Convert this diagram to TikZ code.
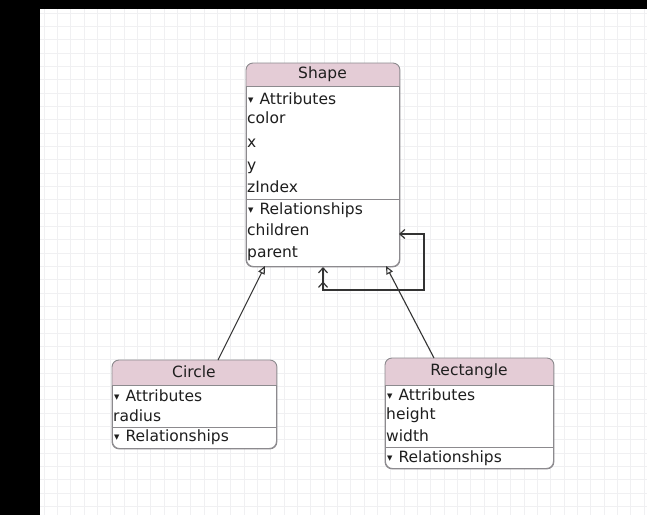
\documentclass[tikz,border=0pt]{standalone}
\usepackage{fontspec}
\setmainfont{DejaVu Sans}
\usetikzlibrary{arrows.meta}

\definecolor{hdrpink}{RGB}{228,204,214}
\definecolor{boxline}{RGB}{140,138,142}
\definecolor{gridline}{RGB}{240,240,242}
\definecolor{txt}{RGB}{30,30,30}
\newcommand\sect[1]{\raisebox{2pt}{\fontsize{7}{8}\selectfont ▼}\hspace{6pt}#1}
\tikzset{barb/.tip={Straight Barb[length=5pt,width=9pt,line width=1.2pt]}}

\begin{document}
\begin{tikzpicture}[x=1pt,y=-1pt,
  every node/.style={text=txt, font=\fontsize{15.5}{18}\selectfont, inner sep=0pt},
  row/.style={anchor=west, text height=11pt, text depth=3pt},
  title/.style={text height=11pt, text depth=3pt},
  frame/.style={draw=boxline, line width=0.9pt, rounded corners=7pt},
  link/.style={draw=black!80, line width=1.1pt}]
\useasboundingbox (0,0) rectangle (647,515);
\fill[black] (0,0) rectangle (647,515);
\fill[white] (40,9) rectangle (647,515);
\foreach \i in {0,...,45} \draw[gridline] ({44+13.33*\i},9) -- ({44+13.33*\i},515);
\foreach \i in {0,...,37} \draw[gridline] (40,{13+13.33*\i}) -- (647,{13+13.33*\i});

% Shape
\node[frame, fill=white, minimum width=153pt, minimum height=203pt, anchor=north west] (shape) at (246,63) {};
\begin{scope}
\clip[rounded corners=7pt] (shape.north west) rectangle (shape.south east);
\fill[hdrpink] (shape.north west) rectangle ([yshift=-23pt]shape.north east);
\end{scope}
\draw[frame] (shape.north west) rectangle (shape.south east);
\draw[boxline] ([yshift=-23pt]shape.north west) -- ([yshift=-23pt]shape.north east);
\draw[boxline] ([yshift=-136pt]shape.north west) -- ([yshift=-136pt]shape.north east);
\node[title] (shape-title) at (322.5,74) {Shape};
\node[row] (shape-attr) at (248,100) {\sect{Attributes}};
\node[row] (shape-color) at (247,119) {color};
\node[row] (shape-x) at (247,143) {x};
\node[row] (shape-y) at (247,166) {y};
\node[row] (shape-z) at (247,188) {zIndex};
\node[row] (shape-rel) at (248,210) {\sect{Relationships}};
\node[row] (shape-children) at (247,231) {children};
\node[row] (shape-parent) at (247,253) {parent};

% Circle
\node[frame, fill=white, minimum width=164pt, minimum height=88pt, anchor=north west] (circle) at (112,360) {};
\begin{scope}
\clip[rounded corners=7pt] (circle.north west) rectangle (circle.south east);
\fill[hdrpink] (circle.north west) rectangle ([yshift=-25pt]circle.north east);
\end{scope}
\draw[frame] (circle.north west) rectangle (circle.south east);
\draw[boxline] ([yshift=-25pt]circle.north west) -- ([yshift=-25pt]circle.north east);
\draw[boxline] ([yshift=-67pt]circle.north west) -- ([yshift=-67pt]circle.north east);
\node[title] (circle-title) at (194,373) {Circle};
\node[row] (circle-attr) at (114,397) {\sect{Attributes}};
\node[row] (circle-radius) at (113,417) {radius};
\node[row] (circle-rel) at (114,437) {\sect{Relationships}};

% Rectangle
\node[frame, fill=white, minimum width=168pt, minimum height=110pt, anchor=north west] (rect) at (385,358) {};
\begin{scope}
\clip[rounded corners=7pt] (rect.north west) rectangle (rect.south east);
\fill[hdrpink] (rect.north west) rectangle ([yshift=-27pt]rect.north east);
\end{scope}
\draw[frame] (rect.north west) rectangle (rect.south east);
\draw[boxline] ([yshift=-27pt]rect.north west) -- ([yshift=-27pt]rect.north east);
\draw[boxline] ([yshift=-89pt]rect.north west) -- ([yshift=-89pt]rect.north east);
\node[title] (rect-title) at (469,371) {Rectangle};
\node[row] (rect-attr) at (387,396) {\sect{Attributes}};
\node[row] (rect-height) at (386,415) {height};
\node[row] (rect-width) at (386,437) {width};
\node[row] (rect-rel) at (387,458) {\sect{Relationships}};

% links
\coordinate (circle-up) at (218,360);
\coordinate (shape-dl) at (265,266);
\coordinate (rect-up) at (434,358);
\coordinate (shape-dr) at (386,266);
\coordinate (shape-out) at (323,267);
\coordinate (shape-in) at (399,234);
\coordinate (loop-corner) at (424,290);

\draw[link, -{Triangle[open,length=8pt,width=7pt]}] (circle-up) -- (shape-dl);
\draw[link, -{Triangle[open,length=8pt,width=7pt]}] (rect-up) -- (shape-dr);
\draw[link, {barb[] barb[sep=8pt]}-{barb[]}] (shape-out) |- (loop-corner) |- (shape-in);
\end{tikzpicture}
\end{document}
